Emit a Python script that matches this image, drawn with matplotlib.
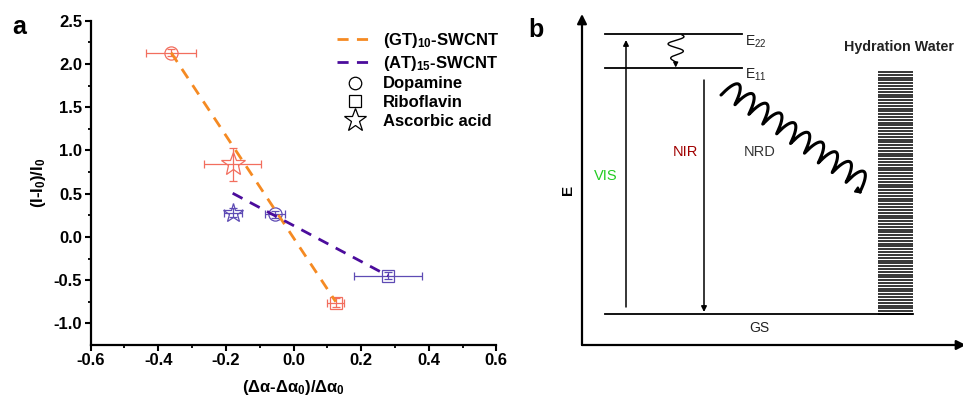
import numpy as np
import matplotlib
matplotlib.use("Agg")
import matplotlib.pyplot as plt
from matplotlib.lines import Line2D

plt.rcParams['font.family'] = ['Liberation Sans', 'DejaVu Sans']
plt.rcParams['mathtext.fontset'] = 'custom'
plt.rcParams['mathtext.rm'] = 'Liberation Sans'
plt.rcParams['mathtext.it'] = 'Liberation Sans:italic'
plt.rcParams['mathtext.bf'] = 'Liberation Sans:bold'

# ---------------- data (panel a) ----------------
analytes = ['Dopamine', 'Riboflavin', 'Ascorbic acid']
markers = ['o', 's', '*']

gt_x = [-0.362, 0.125, -0.180]
gt_y = [2.13, -0.76, 0.84]
gt_xerr = [0.073, 0.025, 0.084]
gt_yerr = [0.04, 0.05, 0.19]

at_x = [-0.055, 0.280, -0.180]
at_y = [0.26, -0.45, 0.28]
at_xerr = [0.030, 0.100, 0.027]
at_yerr = [0.04, 0.04, 0.05]

gt_fit_x = [-0.362, 0.125]
gt_fit_y = [2.13, -0.75]
at_fit_x = [-0.180, 0.280]
at_fit_y = [0.505, -0.45]

x_ticks = [-0.6, -0.4, -0.2, 0.0, 0.2, 0.4, 0.6]
y_ticks = [-1.0, -0.5, 0.0, 0.5, 1.0, 1.5, 2.0, 2.5]

GT_MK = '#F26E5E'
AT_MK = '#5E4BB4'
GT_LN = '#F58A22'
AT_LN = '#4B0C9C'

W, H = 963, 396
fig = plt.figure(figsize=(W / 100, H / 100), dpi=100)

ax = fig.add_axes([90.7 / W, 1 - 345 / H, 405.6 / W, 324.3 / H])
ms_gt = {'o': 9.5, 's': 8.5, '*': 18}
ms_at = {'o': 9.5, 's': 8.5, '*': 15}
for i, m in enumerate(markers):
    ax.errorbar(gt_x[i], gt_y[i], xerr=gt_xerr[i], yerr=gt_yerr[i], fmt=m,
                ms=ms_gt[m], mfc='none', mec=GT_MK, mew=0.9, ecolor=GT_MK,
                elinewidth=0.9, capsize=3, capthick=0.9, zorder=3)
    ax.errorbar(at_x[i], at_y[i], xerr=at_xerr[i], yerr=at_yerr[i], fmt=m,
                ms=ms_at[m], mfc='none', mec=AT_MK, mew=0.9, ecolor=AT_MK,
                elinewidth=0.9, capsize=3, capthick=0.9, zorder=3)

ax.plot(gt_fit_x, gt_fit_y, color=GT_LN, lw=2.0, dashes=(4, 3), zorder=4)
ax.plot(at_fit_x, at_fit_y, color=AT_LN, lw=2.0, dashes=(4, 3), zorder=4)

ax.set_xlim(-0.6, 0.6)
ax.set_ylim(-1.25, 2.5)
ax.set_xticks(x_ticks)
ax.set_yticks(y_ticks)
ax.set_xticks(np.arange(-0.5, 0.6, 0.2), minor=True)
ax.set_yticks(np.arange(-0.75, 2.5, 0.5), minor=True)
ax.set_xticklabels([f'{v:.1f}' for v in x_ticks])
ax.set_yticklabels([f'{v:.1f}' for v in y_ticks])
for s in ['top', 'right']:
    ax.spines[s].set_visible(False)
for s in ['left', 'bottom']:
    ax.spines[s].set_linewidth(1.6)
ax.tick_params(which='major', direction='out', length=4, width=1.5,
               labelsize=12, pad=2)
ax.tick_params(which='minor', direction='out', length=2.5, width=1.3)
for lab in ax.get_xticklabels() + ax.get_yticklabels():
    lab.set_fontweight('bold')
ax.set_xlabel('(Δα-Δα$_\\mathbf{0}$)/Δα$_\\mathbf{0}$', fontsize=12,
              fontweight='bold', labelpad=7)
ax.set_ylabel('(I-I$_\\mathbf{0}$)/I$_\\mathbf{0}$', fontsize=12,
              fontweight='bold', labelpad=4)

handles = [
    Line2D([], [], color=GT_LN, lw=2.0, dashes=(4, 3)),
    Line2D([], [], color=AT_LN, lw=2.0, dashes=(4, 3)),
] + [Line2D([], [], ls='none', marker=m, mfc='none', mec='black', mew=0.9,
            ms={'o': 9, 's': 9, '*': 17}[m]) for m in markers]
labels = ['(GT)$_\\mathbf{10}$-SWCNT', '(AT)$_\\mathbf{15}$-SWCNT'] + analytes
leg = ax.legend(handles, labels, loc='upper left', bbox_to_anchor=(0.607, 0.968),
                frameon=False, borderpad=0, borderaxespad=0, handlelength=2.2,
                handletextpad=0.55, labelspacing=0.22,
                prop={'weight': 'bold', 'size': 12})

fig.text(12 / W, 1 - 27 / H, 'a', fontsize=18, fontweight='bold',
         ha='left', va='center')

# ---------------- panel b (schematic) ----------------
ov = fig.add_axes([0, 0, 1, 1], facecolor='none')
ov.set_xlim(0, W)
ov.set_ylim(H, 0)
ov.axis('off')

fig.text(536 / W, 1 - 30 / H, 'b', fontsize=18, fontweight='bold',
         ha='center', va='center')

axis_origin = (582, 345)
ov.annotate('', xy=(582, 14), xytext=axis_origin, annotation_clip=False,
            arrowprops=dict(arrowstyle='-|>', lw=1.6, color='black',
                            mutation_scale=14, shrinkA=0, shrinkB=0))
ov.annotate('', xy=(966, 345), xytext=axis_origin, annotation_clip=False,
            arrowprops=dict(arrowstyle='-|>', lw=1.6, color='black',
                            mutation_scale=14, shrinkA=0, shrinkB=0))
ov.text(568, 190, 'E', rotation=90, fontsize=11, fontweight='bold',
        ha='center', va='center')

levels_y = {'E22': 34.3, 'E11': 68.3, 'GS': 314.3}
ov.plot([605, 742], [levels_y['E22']] * 2, color='black', lw=1.3)
ov.plot([605, 742], [levels_y['E11']] * 2, color='black', lw=1.3)
ov.plot([605, 913], [levels_y['GS']] * 2, color='black', lw=1.3)
ov.text(745, 42, 'E$_{22}$', fontsize=10, color='#222222', ha='left', va='center')
ov.text(745, 75, 'E$_{11}$', fontsize=10, color='#222222', ha='left', va='center')
ov.text(759, 328, 'GS', fontsize=10, color='#222222', ha='center', va='center')

ov.annotate('', xy=(626, 40), xytext=(626, 307),
            arrowprops=dict(arrowstyle='-|>', lw=1.1, color='black',
                            mutation_scale=8, shrinkA=0, shrinkB=0))
ov.annotate('', xy=(704, 312), xytext=(704, 80),
            arrowprops=dict(arrowstyle='-|>', lw=1.1, color='black',
                            mutation_scale=8, shrinkA=0, shrinkB=0))
ov.text(606, 176, 'VIS', fontsize=10.5, color='#22CC22', ha='center', va='center')
ov.text(685, 152, 'NIR', fontsize=10.5, color='#A00000', ha='center', va='center')
ov.text(760, 152, 'NRD', fontsize=10.5, color='#333333', ha='center', va='center')

# big wavy arrow (non-radiative decay)
p0 = np.array([721.0, 95.0])
p1 = np.array([860.0, 192.0])
d = p1 - p0
L = np.hypot(*d)
u = d / L
nrm = np.array([-u[1], u[0]])
t = np.linspace(0, 1, 1000)
n_per = 10
ph = 2 * np.pi * n_per * t
along = t * L - 2.2 * np.sin(ph)
perp = 9.5 * np.cos(ph) - 9.5
pts = p0[None, :] + along[:, None] * u[None, :] + perp[:, None] * nrm[None, :]
ov.plot(pts[:, 0], pts[:, 1], color='black', lw=2.2, solid_capstyle='round')
ov.annotate('', xy=(pts[-1, 0] + 3 * u[0], pts[-1, 1] + 3 * u[1]),
            xytext=(pts[-1, 0] - 1 * u[0], pts[-1, 1] - 1 * u[1]),
            arrowprops=dict(arrowstyle='-|>', lw=1.5, color='black',
                            mutation_scale=9, shrinkA=0, shrinkB=0))

# small wiggle E22 -> E11
s = np.linspace(0, 1, 200)
wy = 35 + 27 * s
wx = 676 + 8 * np.sin(0.87 + 11.6 * s) * (1 - 0.6 * s ** 4)
ov.plot(wx, wy, color='black', lw=1.0)
ov.annotate('', xy=(wx[-1], 67.5), xytext=(wx[-1], 62),
            arrowprops=dict(arrowstyle='-|>', lw=1.0, color='black',
                            mutation_scale=7, shrinkA=0, shrinkB=0))

# hydration water block
stripes_y = np.linspace(72, 314, 87)
ov.hlines(stripes_y, 878, 913, color='black', lw=1.1)
ov.text(899, 47, 'Hydration Water', fontsize=10.3, fontweight='bold',
        ha='center', va='center', color='#222222')

fig.savefig('out.png', dpi=100)
